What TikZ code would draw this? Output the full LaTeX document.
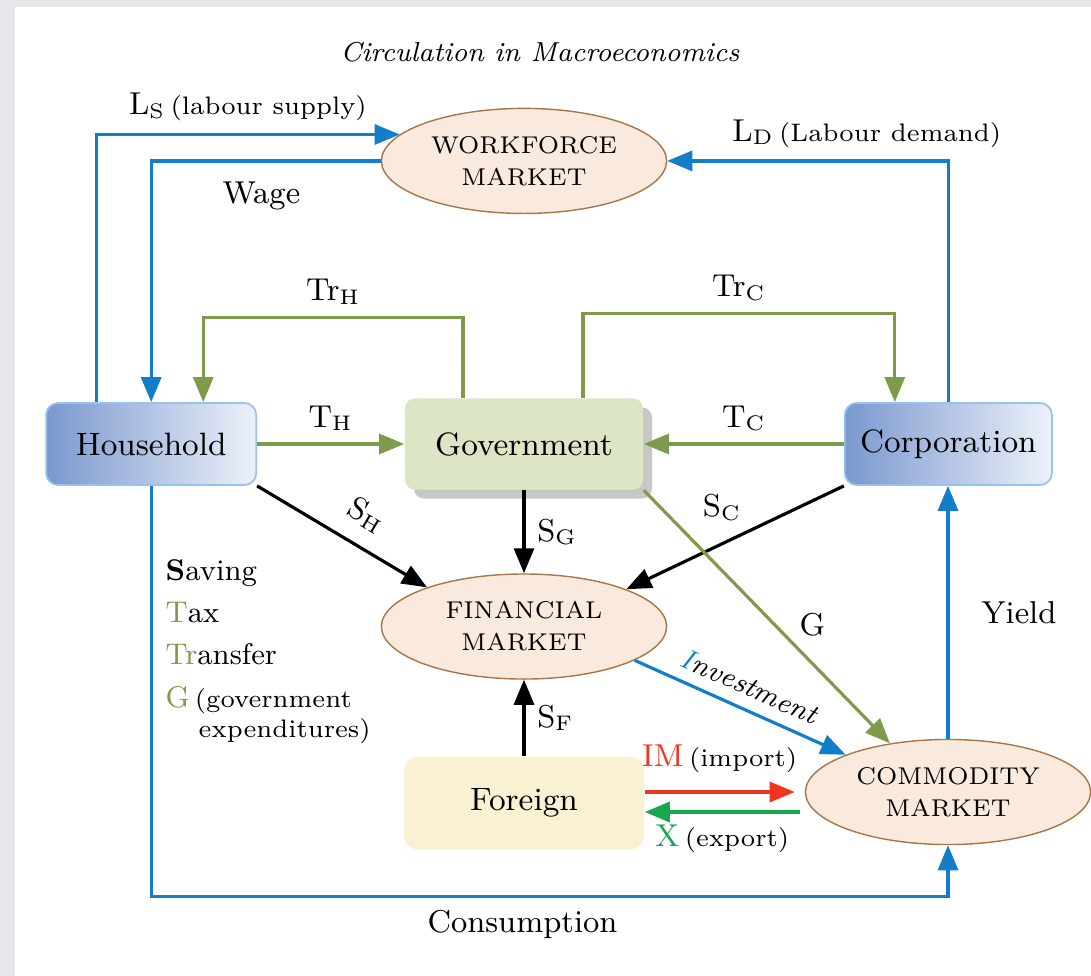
\documentclass[tikz,border=0pt]{standalone}
\usepackage{amsmath}
\usepackage{tikz}
\usetikzlibrary{positioning,shapes,arrows.meta,shadows}

\definecolor{flowblue}{RGB}{18,126,201}
\definecolor{taxgreen}{RGB}{126,155,76}
\definecolor{imred}{RGB}{240,52,30}
\definecolor{exgreen}{RGB}{22,168,78}
\definecolor{marketfill}{RGB}{250,233,221}
\definecolor{marketline}{RGB}{168,118,72}
\definecolor{govfill}{RGB}{221,230,196}
\definecolor{forfill}{RGB}{250,241,211}
\definecolor{agentdark}{RGB}{122,152,206}
\definecolor{agentlight}{RGB}{237,241,250}
\definecolor{agentline}{RGB}{150,196,236}
\definecolor{pagegrey}{RGB}{230,231,235}

\newcommand{\smalltxt}[1]{{\fontsize{7.2}{9}\selectfont #1}}

\begin{document}
\begin{tikzpicture}[
  x=0.01cm, y=-0.01cm,
  agent/.style={rectangle, rounded corners=0.12cm, draw=agentline, line width=0.5pt, left color=agentdark, right color=agentlight, minimum width=2.1cm, minimum height=0.82cm, font=\fontsize{9.2}{11}\selectfont},
  govbox/.style={rectangle, rounded corners=0.1cm, fill=govfill, minimum width=2.38cm, minimum height=0.91cm, drop shadow={shadow xshift=0.09cm, shadow yshift=-0.09cm, fill=black, opacity=0.22}, font=\fontsize{9.2}{11}\selectfont},
  forbox/.style={rectangle, rounded corners=0.15cm, fill=forfill, minimum width=2.4cm, minimum height=0.93cm, font=\fontsize{9.2}{11}\selectfont},
  market/.style={ellipse, draw=marketline, line width=0.4pt, fill=marketfill, minimum width=2.85cm, minimum height=1.05cm, inner sep=0pt, align=center, font=\fontsize{6.9}{9.1}\selectfont},
  flowline/.style={line width=0.9pt, -{Triangle[length=0.25cm, width=0.2cm]}},
  bflow/.style={flowline, draw=flowblue},
  tflow/.style={flowline, draw=taxgreen},
  sflow/.style={flowline, draw=black},
  imflow/.style={flowline, draw=imred},
  exflow/.style={flowline, draw=exgreen},
  lbl/.style={text=black, font=\fontsize{9}{11}\selectfont}
]
\useasboundingbox (0,0) rectangle (1091,976);
\fill[pagegrey] (0,0) rectangle (1091,976);
\fill[white] (15,7) rectangle (1091,976);

\node (title) [font=\fontsize{7.8}{10}\selectfont\itshape] at (540,52) {Circulation in Macroeconomics};

% agents and markets
\node (gv) [govbox] at (524,444) {Government};
\node (hh) [agent, left=1.47cm of gv] {Household};
\node (cp) [agent, right=2.0cm of gv, minimum width=2.07cm] {Corporation};
\node (wf) [market, above=1.835cm of gv] {WORKFORCE\\MARKET};
\node (fm) [market, below=0.83cm of gv] {FINANCIAL\\MARKET};
\node (fg) [forbox, below=0.76cm of fm] {Foreign};
\node (cm) [market] at (948,792) {COMMODITY\\MARKET};

% labour
\draw[bflow] ([xshift=-0.55cm]hh.north) |- node[pos=0.75, above, lbl] {L$_{\mathrm{S}}$\,\smalltxt{(labour supply)}} (wf.168);
\draw[bflow] (wf.west) -| node[pos=0.26, below=0.08cm, lbl] {Wage} (hh.north);
\draw[bflow] (cp.north) |- node[pos=0.645, above, lbl] {L$_{\mathrm{D}}$\,\smalltxt{(Labour demand)}} (wf.east);

% transfers and taxes
\draw[tflow] ([xshift=-0.61cm]gv.north) -- ++(0,-80) -| node[pos=0.25, above, lbl] {Tr$_{\mathrm{H}}$} ([xshift=0.52cm]hh.north);
\draw[tflow] ([xshift=0.59cm]gv.north) -- ++(0,-84) -| node[pos=0.25, above, lbl] {Tr$_{\mathrm{C}}$} ([xshift=-0.535cm]cp.north);
\draw[tflow] (hh.east) -- node[above, lbl] {T$_{\mathrm{H}}$} (hh.east -| gv.west);
\draw[tflow] (cp.west) -- node[above, lbl] {T$_{\mathrm{C}}$} (cp.west -| gv.east);

% savings
\draw[sflow] (hh.south east) -- node[pos=0.55, sloped, above=0.05cm, lbl] {S$_{\mathrm{H}}$} (fm.158);
\draw[sflow] (gv.south) -- node[right, lbl] {S$_{\mathrm{G}}$} (fm.north);
\draw[sflow] (cp.south west) -- node[pos=0.56, above=0.1cm, lbl] {S$_{\mathrm{C}}$} (fm.20);
\draw[sflow] (fg.north) -- node[right, lbl] {S$_{\mathrm{F}}$} (fm.south);

% spending and investment
\draw[tflow] (gv.south east) -- node[pos=0.53, right=0.12cm, lbl] {G} (cm.140);
\draw[bflow] (fm.343) -- node[sloped, above, lbl, font=\fontsize{8.1}{10}\selectfont\itshape] {\textcolor{flowblue}{I}nvestment} (cm.160);

% trade
\draw[imflow] (fg.east |- cm.west) -- node[above=0.06cm, lbl] {\textcolor{imred}{IM}\,\smalltxt{(import)}} ([xshift=-0.1cm]cm.west);
\draw[exflow] ([xshift=-0.05cm, yshift=-0.2cm]cm.west) -- node[below, lbl] {\textcolor{exgreen}{X}\,\smalltxt{(export)}} ([yshift=-0.2cm]cm.west -| fg.east);

% consumption and yield
\draw[bflow] (hh.south) -- ++(0,411) -| node[pos=0.233, below, lbl] {Consumption} (cm.south);
\draw[bflow] (cm.north) -- node[right=0.2cm, lbl] {Yield} (cm.north |- cp.south);

% legend
\node (legend) [anchor=north west, align=left, inner sep=0pt, font=\fontsize{8.5}{12}\selectfont] at (165,559) {\textbf{S}aving\\
\textcolor{taxgreen}{T}ax\\
\textcolor{taxgreen}{Tr}ansfer\\
\textcolor{taxgreen}{G}\,\smalltxt{(government}\\[-3.5pt]
\hspace*{0.33cm}\smalltxt{expenditures)}};

\end{tikzpicture}
\end{document}
